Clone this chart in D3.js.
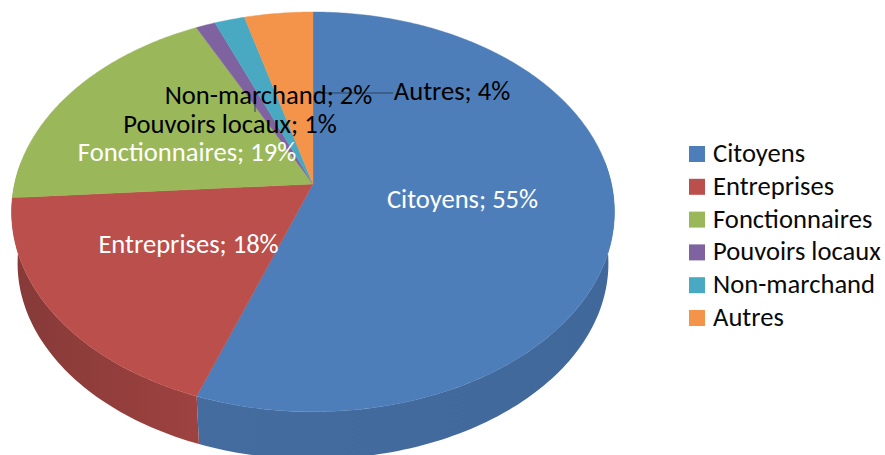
<!DOCTYPE html>
<html><head><meta charset="utf-8">
<script src="https://cdnjs.cloudflare.com/ajax/libs/d3/7.8.5/d3.min.js"></script>
<style>html,body{margin:0;padding:0;background:#fff}svg{display:block}text{font-family:Carlito,Lato,sans-serif;font-feature-settings:"liga" 1}</style>
</head><body><svg id="c" width="885" height="455"></svg>
<script>
const categories = ["Citoyens","Entreprises","Fonctionnaires","Pouvoirs locaux","Non-marchand","Autres"];
const shares = [55.5,18.4,18.85,1.2,1.85,4.2];
const shownPercent = [55,18,19,1,2,4];
const topColors = ["#4e7eb9","#bb4f4b","#9ab859","#7f63a1","#4aa9c2","#f3944a"];
const wallDark = ["#41689a","#863a38","#7a9445","#644d80","#3a8599","#c2743a"];
const wallLight = ["#476da0","#9d4240","#86a24e","#6f5790","#419bb0","#d5823f"];
// label anchor points (middle of text, baseline) and legend layout
const labelX = [462.5,188.5,187,230,268.5,452];
const labelY = [208,253,161,133,104,100];
const labelFill = ["#fff","#fff","#fff","#000","#000","#000"];

const svg = d3.select("#c");
const color = d3.scaleOrdinal(categories, topColors);
const cx = 313, cy = 184, R = 298.5, S = 196, k = 0.1394;
const wallScale = 0.98, wallY = 236;

// perspective projection of the unit disc
function proj(a, scale, y0){
  const u = Math.sin(a), v = -Math.cos(a), d = 1 - k*v;
  return [cx + scale*R*u/d, y0 + scale*S*v/d];
}
const pie = d3.pie().sort(null).value(d=>d);
const arcs = pie(shares);
const line = d3.line();
const samples = (a0,a1,n)=>d3.range(n+1).map(i=>a0+(a1-a0)*i/n);

const defs = svg.append("defs");
const front = [];
arcs.forEach((d,i)=>{
  const lo = Math.max(d.startAngle, Math.PI/2 - 0.12), hi = Math.min(d.endAngle, 3*Math.PI/2 + 0.12);
  if(hi>lo) front.push({i,lo,hi});
});
front.forEach(f=>{
  const n = Math.max(4, Math.ceil((f.hi-f.lo)/0.02));
  const as = samples(f.lo,f.hi,n);
  const grad = defs.append("linearGradient").attr("id","w"+f.i).attr("x1","0").attr("x2","1").attr("y1","0").attr("y2","0");
  if(f.i===0){
    grad.append("stop").attr("offset","0").attr("stop-color","#456c9f");
    grad.append("stop").attr("offset","1").attr("stop-color",wallDark[0]);
  } else {
    grad.append("stop").attr("offset","0").attr("stop-color",wallDark[f.i]);
    grad.append("stop").attr("offset","1").attr("stop-color",wallLight[f.i]);
  }
  const top = as.map(a=>proj(a,1,cy));
  const bot = as.map(a=>proj(a,wallScale,wallY)).reverse();
  svg.append("path").attr("d",line(top.concat(bot))+"Z").attr("fill",`url(#w${f.i})`);
});
arcs.forEach((d,i)=>{
  const n = Math.max(4, Math.ceil((d.endAngle-d.startAngle)/0.01));
  const pts = samples(d.startAngle,d.endAngle,n).map(a=>proj(a,1,cy));
  svg.append("path").attr("d",line([[cx,cy]].concat(pts))+"Z").attr("fill",color(categories[i]))
     .attr("stroke",color(categories[i])).attr("stroke-width",0.4);
});
// leader lines
const leader = d3.line();
svg.append("path").attr("d",leader([[393,93],[314,93]])).attr("fill","none").attr("stroke","#2f4054").attr("stroke-width",1);
svg.append("path").attr("d",leader([[255,100],[255,112]])).attr("fill","none").attr("stroke","#2f4054").attr("stroke-width",1);
// data labels
svg.selectAll("text.lab").data(categories).join("text").attr("class","lab")
  .attr("x",(d,i)=>labelX[i]).attr("y",(d,i)=>labelY[i]).attr("text-anchor","middle")
  .attr("fill",(d,i)=>labelFill[i]).attr("font-size",26.6)
  .text((d,i)=>`${d}; ${shownPercent[i]}%`);
// legend
const ly = d3.scalePoint().domain(categories).range([154,318]);
svg.selectAll("rect.sw").data(categories).join("rect").attr("class","sw")
  .attr("x",689).attr("y",d=>ly(d)-8).attr("width",16).attr("height",16).attr("fill",d=>color(d));
svg.selectAll("text.leg").data(categories).join("text").attr("class","leg")
  .attr("x",713).attr("y",d=>ly(d)+8).attr("fill","#0a0a0a").attr("font-size",26.6).text(d=>d);
</script></body></html>
